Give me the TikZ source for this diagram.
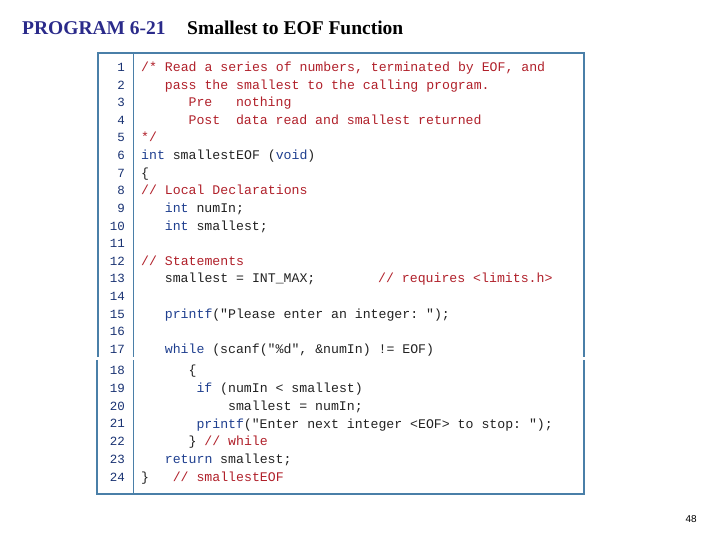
\documentclass[tikz,border=0pt]{standalone}
\usepackage{fontspec}
\setmainfont{Liberation Serif}
\setmonofont{Liberation Mono}
\setsansfont{Liberation Sans}
\definecolor{kw}{HTML}{1F3F8F}
\definecolor{cm}{HTML}{B0202A}
\definecolor{tx}{HTML}{222222}
\definecolor{bd}{HTML}{4A7FA8}
\definecolor{ttl}{HTML}{2A2A8A}
\tikzset{code/.style={anchor=base west,inner sep=0pt,font=\fontsize{13.2}{14}\ttfamily},
 num/.style={anchor=base east,inner sep=0pt,font=\fontsize{12.5}{14}\ttfamily,text=kw!80!black}}
\newcommand\cx[4]{\node[code,text=#3] at ({141+7.9*#1},{-(#2)-4.5}) {#4};}
\begin{document}
\begin{tikzpicture}[x=1pt,y=1pt]
\useasboundingbox (0,0) rectangle (720,-540);
\node[anchor=base west,inner sep=0pt,font=\bfseries\fontsize{19.5}{22}\selectfont,text=black] (title) at (22,-35) {\textcolor{ttl}{PROGRAM 6-21}\hspace{1.1em}Smallest to EOF Function};
\draw[bd,line width=1.3pt] (98,-357) -- (98,-53) -- (584,-53) -- (584,-357);
\draw[bd,line width=0.9pt] (133,-53) -- (133,-357);
\draw[bd,line width=1.3pt] (97,-360) -- (97,-494) -- (584,-494) -- (584,-360);
\draw[bd,line width=0.9pt] (133,-360) -- (133,-494);
\foreach \i in {1,...,17} {\node[num] (n\i) at (125,{-67-17.62*(\i-1)-4.5}) {\i};}
\foreach \i in {18,...,24} {\node[num] (n\i) at (125,{-370-17.83*(\i-18)-4.5}) {\i};}
% lines 1-17
\cx{0}{67}{cm}{/* Read a series of numbers, terminated by EOF, and}
\cx{3}{84.6}{cm}{pass the smallest to the calling program.}
\cx{6}{102.2}{cm}{Pre}
\cx{12}{102.2}{cm}{nothing}
\cx{6}{119.9}{cm}{Post}
\cx{12}{119.9}{cm}{data read and smallest returned}
\cx{0}{137.5}{cm}{*/}
\cx{0}{155.1}{kw}{int}
\cx{4}{155.1}{tx}{smallestEOF (\textcolor{kw}{void})}
\cx{0}{172.7}{tx}{\{}
\cx{0}{190.3}{cm}{// Local Declarations}
\cx{3}{208}{kw}{int}
\cx{7}{208}{tx}{numIn;}
\cx{3}{225.6}{kw}{int}
\cx{7}{225.6}{tx}{smallest;}
\cx{0}{260.8}{cm}{// Statements}
\cx{3}{278.4}{tx}{smallest = INT\_MAX;}
\cx{30}{278.4}{cm}{// requires <limits.h>}
\cx{3}{313.7}{kw}{printf}
\cx{9}{313.7}{tx}{("Please enter an integer: ");}
\cx{3}{349}{kw}{while}
\cx{9}{349}{tx}{(scanf("\%d", \&numIn) != EOF)}
% lines 18-24
\cx{6}{370}{tx}{\{}
\cx{7}{387.8}{kw}{if}
\cx{10}{387.8}{tx}{(numIn < smallest)}
\cx{11}{405.7}{tx}{smallest = numIn;}
\cx{7}{423.5}{kw}{printf}
\cx{13}{423.5}{tx}{("Enter next integer <EOF> to stop: ");}
\cx{6}{441.3}{tx}{\}}
\cx{8}{441.3}{cm}{// while}
\cx{3}{459.2}{kw}{return}
\cx{10}{459.2}{tx}{smallest;}
\cx{0}{477}{tx}{\}}
\cx{4}{477}{cm}{// smallestEOF}
\node[anchor=base east,inner sep=0pt,font=\sffamily\fontsize{10}{12}\selectfont] (pg) at (697,-522) {48};
\end{tikzpicture}
\end{document}
